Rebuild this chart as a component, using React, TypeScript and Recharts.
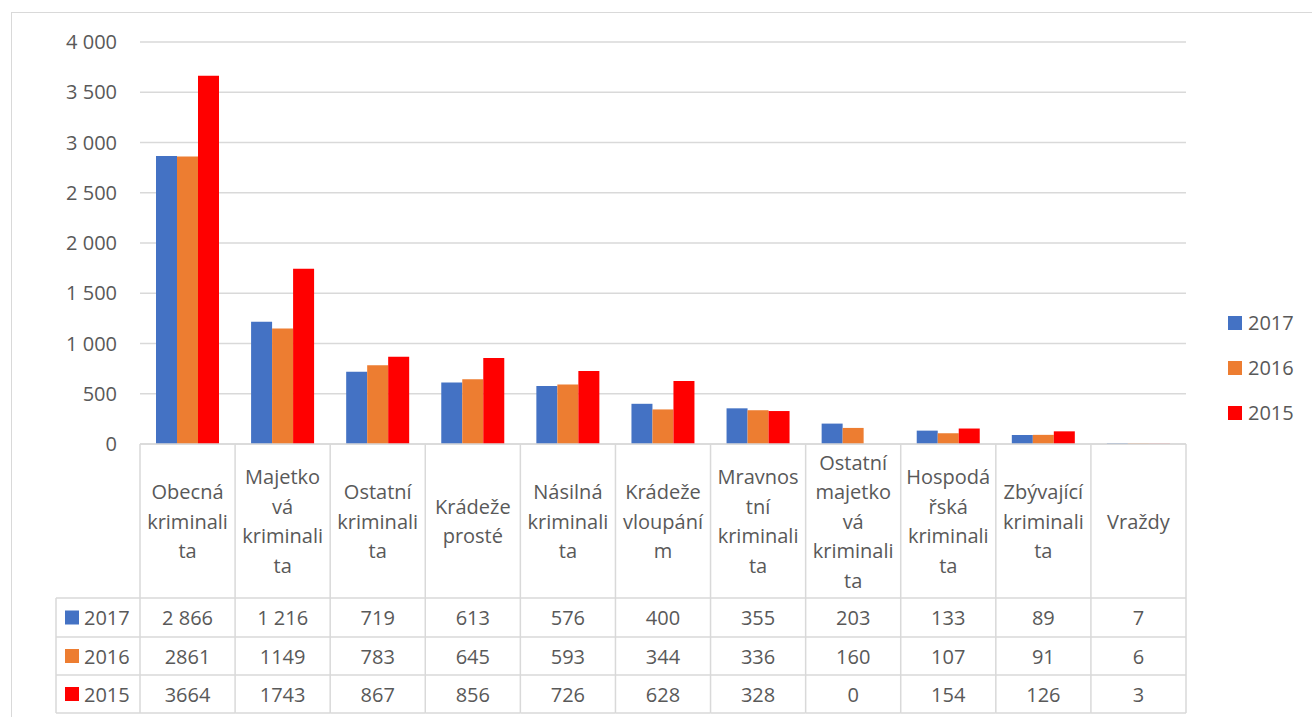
import { BarChart, Bar, XAxis, YAxis, CartesianGrid, Legend } from "recharts"

// category labels, wrapped the way the original table shows them
const categoryLines = [
  ["Obecná", "kriminali", "ta"],
  ["Majetko", "vá", "kriminali", "ta"],
  ["Ostatní", "kriminali", "ta"],
  ["Krádeže", "prosté"],
  ["Násilná", "kriminali", "ta"],
  ["Krádeže", "vloupání", "m"],
  ["Mravnos", "tní", "kriminali", "ta"],
  ["Ostatní", "majetko", "vá", "kriminali", "ta"],
  ["Hospodá", "řská", "kriminali", "ta"],
  ["Zbývající", "kriminali", "ta"],
  ["Vraždy"],
]

const years = ["2017", "2016", "2015"]
const values2017 = [2866, 1216, 719, 613, 576, 400, 355, 203, 133, 89, 7]
const values2016 = [2861, 1149, 783, 645, 593, 344, 336, 160, 107, 91, 6]
const values2015 = [3664, 1743, 867, 856, 726, 628, 328, 0, 154, 126, 3]
const yTicks = [0, 500, 1000, 1500, 2000, 2500, 3000, 3500, 4000]

const colors = ["#4472C4", "#ED7D31", "#FF0000"]
const seriesValues = [values2017, values2016, values2015]
// the 2017 row of the table uses digit grouping, the others don't
const groupedRow = [true, false, false]

const W = 1312
const H = 717
const PLOT_LEFT = 140
const PLOT_RIGHT = 1186
const PLOT_TOP = 42
const PLOT_BOTTOM = 444
const BAND = (PLOT_RIGHT - PLOT_LEFT) / categoryLines.length
const HEADER_BOTTOM = 598
const ROW_BOTTOMS = [637, 675, 713]
const LABEL_LEFT = 56
const LINE_H = 29.5
const GRID = "#D9D9D9"
const TEXT = "#595959"
const FONT = 20

const fmtSpace = (v: number) => {
  const s = String(Math.round(v))
  return s.replace(/\B(?=(\d{3})+(?!\d))/g, " ")
}

const data = categoryLines.map((lines, i) => ({
  name: lines.join(""),
  y2017: values2017[i],
  y2016: values2016[i],
  y2015: values2015[i],
}))

function TableTick(props: any) {
  const { x, payload } = props
  const i = payload.index
  const left = x - BAND / 2
  const right = x + BAND / 2
  const lines = categoryLines[i]
  const mid = (PLOT_BOTTOM + HEADER_BOTTOM) / 2
  const rowTops = [HEADER_BOTTOM, ROW_BOTTOMS[0], ROW_BOTTOMS[1]]
  const bottom = ROW_BOTTOMS[ROW_BOTTOMS.length - 1]

  return (
    <g>
      <line x1={left} x2={left} y1={PLOT_BOTTOM} y2={bottom} stroke={GRID} strokeWidth={1.5} />
      {i === categoryLines.length - 1 && (
        <line x1={right} x2={right} y1={PLOT_BOTTOM} y2={bottom} stroke={GRID} strokeWidth={1.5} />
      )}
      {[HEADER_BOTTOM, ...ROW_BOTTOMS].map((yy) => (
        <line key={yy} x1={left} x2={right} y1={yy} y2={yy} stroke={GRID} strokeWidth={1.5} />
      ))}
      {lines.map((t, k) => (
        <text
          key={k}
          x={x}
          y={mid + (k - (lines.length - 1) / 2) * LINE_H}
          textAnchor="middle"
          dominantBaseline="central"
          fill={TEXT}
          fontSize={FONT}
        >
          {t}
        </text>
      ))}
      {seriesValues.map((vals, r) => (
        <text
          key={r}
          x={x}
          y={(rowTops[r] + ROW_BOTTOMS[r]) / 2}
          textAnchor="middle"
          dominantBaseline="central"
          fill={TEXT}
          fontSize={FONT}
        >
          {groupedRow[r] ? fmtSpace(vals[i]) : String(vals[i])}
        </text>
      ))}
      {i === 0 && (
        <g>
          <line x1={LABEL_LEFT} x2={LABEL_LEFT} y1={HEADER_BOTTOM} y2={bottom} stroke={GRID} strokeWidth={1.5} />
          {[HEADER_BOTTOM, ...ROW_BOTTOMS].map((yy) => (
            <line key={yy} x1={LABEL_LEFT} x2={left} y1={yy} y2={yy} stroke={GRID} strokeWidth={1.5} />
          ))}
          {years.map((yr, r) => {
            const cy = (rowTops[r] + ROW_BOTTOMS[r]) / 2
            return (
              <g key={yr}>
                <rect x={65} y={cy - 7} width={14} height={14} fill={colors[r]} />
                <text x={84} y={cy} dominantBaseline="central" fill={TEXT} fontSize={FONT}>
                  {yr}
                </text>
              </g>
            )
          })}
        </g>
      )}
    </g>
  )
}

function LegendBox() {
  return (
    <div>
      {years.map((yr, r) => (
        <div key={yr} style={{ height: 45, display: "flex", alignItems: "center" }}>
          <span style={{ width: 14, height: 14, background: colors[r], display: "inline-block", marginRight: 6 }} />
          <span style={{ fontSize: FONT, color: TEXT }}>{yr}</span>
        </div>
      ))}
    </div>
  )
}

export default function App() {
  return (
    <div style={{ position: "absolute", left: 0, top: 0, width: W, height: H, fontFamily: "'Open Sans', sans-serif", background: "#fff", overflow: "hidden" }}>
      <div style={{ position: "absolute", left: 11, top: 12, width: 1300, height: 720, border: `1px solid ${GRID}` }} />
      <BarChart
        width={W}
        height={H}
        data={data}
        margin={{ top: PLOT_TOP, right: W - PLOT_RIGHT, left: 0, bottom: 0 }}
        barCategoryGap={16}
        barGap={0}
      >
        <CartesianGrid vertical={false} stroke={GRID} strokeWidth={1.5} />
        <XAxis
          dataKey="name"
          height={H - PLOT_BOTTOM}
          interval={0}
          tickLine={false}
          axisLine={{ stroke: GRID, strokeWidth: 1.5 }}
          tick={<TableTick />}
        />
        <YAxis
          width={PLOT_LEFT}
          domain={[0, 4000]}
          ticks={yTicks}
          tickLine={false}
          axisLine={false}
          tickMargin={17}
          tick={{ fill: TEXT, fontSize: FONT }}
          tickFormatter={fmtSpace}
        />
        <Legend
          layout="vertical"
          align="center"
          verticalAlign="middle"
          wrapperStyle={{ position: "absolute", left: 1228, top: 300, width: 80 }}
          content={() => <LegendBox />}
        />
        <Bar dataKey="y2017" fill={colors[0]} isAnimationActive={false} />
        <Bar dataKey="y2016" fill={colors[1]} isAnimationActive={false} />
        <Bar dataKey="y2015" fill={colors[2]} isAnimationActive={false} />
      </BarChart>
    </div>
  )
}
